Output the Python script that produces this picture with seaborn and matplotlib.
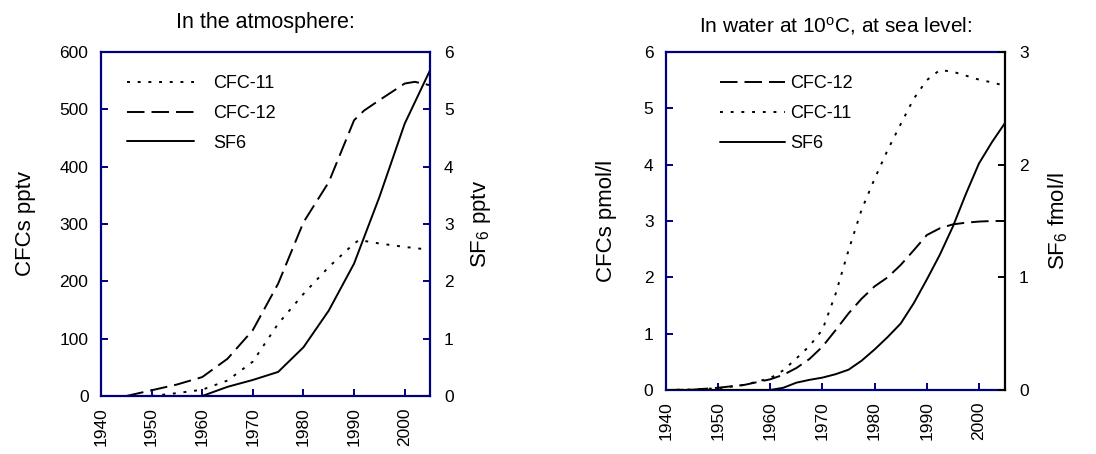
import matplotlib
matplotlib.use("Agg")
import matplotlib.pyplot as plt
import seaborn as sns
import pandas as pd

# ---------------- data: atmosphere ----------------
atm_cfc12_years = [1945, 1950, 1955, 1960, 1965, 1970, 1975, 1980, 1985, 1990, 1992, 1995, 2000, 2002, 2005]
atm_cfc12 = [0, 10, 20, 33, 65, 115, 196, 303, 373, 481, 498, 516, 545, 548, 542]
atm_cfc11_years = [1950, 1955, 1960, 1965, 1970, 1975, 1980, 1985, 1990, 1991, 1995, 2000, 2004]
atm_cfc11 = [0, 5, 11, 27, 60, 126, 178, 225, 266, 272, 266, 260, 256]
atm_sf6_years = [1960, 1965, 1970, 1975, 1980, 1985, 1990, 1995, 2000, 2005]
atm_sf6 = [0, 0.16, 0.28, 0.42, 0.85, 1.49, 2.31, 3.47, 4.75, 5.68]

# ---------------- data: water at 10 C ----------------
wat_years = [1940, 1945, 1950, 1955, 1960, 1962.5, 1965, 1967.5, 1970, 1972.5, 1975,
             1977.5, 1980, 1982.5, 1985, 1987.5, 1990, 1992.5, 1995, 1997.5, 2000, 2002.5, 2005]
wat_cfc12 = [0, 0.005, 0.04, 0.09, 0.19, 0.27, 0.39, 0.55, 0.77, 1.06, 1.36,
             1.62, 1.84, 2.00, 2.22, 2.48, 2.75, 2.87, 2.94, 2.97, 2.99, 3.00, 3.00]
wat_cfc11 = [0, 0.01, 0.03, 0.09, 0.21, 0.35, 0.56, 0.78, 1.07, 1.70, 2.48,
             3.20, 3.75, 4.26, 4.72, 5.17, 5.50, 5.68, 5.65, 5.58, 5.51, 5.46, 5.40]
wat_sf6 = [0, 0, 0, 0, 0, 0.02, 0.065, 0.09, 0.11, 0.14, 0.18,
           0.26, 0.36, 0.47, 0.59, 0.77, 0.98, 1.20, 1.45, 1.74, 2.01, 2.20, 2.37]

xticks = [1940, 1950, 1960, 1970, 1980, 1990, 2000]

sns.set_style("white")
plt.rcParams['font.family'] = ['Liberation Sans', 'DejaVu Sans']
plt.rcParams['mathtext.fontset'] = 'custom'
plt.rcParams['mathtext.rm'] = 'Liberation Sans'
plt.rcParams['mathtext.it'] = 'Liberation Sans:italic'
plt.rcParams['mathtext.bf'] = 'Liberation Sans:bold'
plt.rcParams['text.color'] = 'black'
plt.rcParams['axes.labelcolor'] = 'black'
plt.rcParams['xtick.labelcolor'] = 'black'
plt.rcParams['ytick.labelcolor'] = 'black'

NAVY = '#000080'
LW = 1.4
DOT = (1.5, 4)
DASH = (9, 3.6)
TICK_FS = 12.5

fig = plt.figure(figsize=(10.96, 4.54), dpi=100)
W, H = 1096, 454

def box(x0, y0, x1, y1):
    return [x0 / W, 1 - y1 / H, (x1 - x0) / W, (y1 - y0) / H]

def style_axes(ax, ax2, right_color):
    for s in ['left', 'bottom', 'top']:
        ax.spines[s].set_color(NAVY)
        ax.spines[s].set_linewidth(1.6)
    ax.spines['right'].set_visible(False)
    for s in ['left', 'bottom', 'top']:
        ax2.spines[s].set_visible(False)
    ax2.spines['right'].set_color(right_color)
    ax2.spines['right'].set_linewidth(1.6)
    ax.tick_params(axis='y', direction='in', length=5, width=1.4, color=NAVY,
                   labelcolor='black', labelsize=TICK_FS, pad=9, left=True)
    ax.tick_params(axis='x', direction='in', length=5, width=1.4, color=NAVY,
                   labelcolor='black', labelsize=TICK_FS, pad=8, bottom=True,
                   labelrotation=90)
    ax2.tick_params(axis='y', direction='in', length=5, width=1.4, color=right_color,
                    labelcolor='black', labelsize=TICK_FS, pad=10, right=True)
    ax.set_xlim(1940, 2005)
    ax.set_xticks(xticks)
    ax.set_xticklabels([str(t) for t in xticks])
    ax.set_xlabel('')

# ---------------- left panel ----------------
axL = fig.add_axes(box(101, 52, 430, 396))
axL2 = axL.twinx()

df_a11 = pd.DataFrame({'year': atm_cfc11_years, 'v': atm_cfc11})
df_a12 = pd.DataFrame({'year': atm_cfc12_years, 'v': atm_cfc12})
df_asf = pd.DataFrame({'year': atm_sf6_years, 'v': atm_sf6})

sns.lineplot(data=df_a11, x='year', y='v', ax=axL, color='black', lw=LW,
             label='CFC-11', legend=False)
axL.lines[-1].set_dashes(DOT)
sns.lineplot(data=df_a12, x='year', y='v', ax=axL, color='black', lw=LW,
             label='CFC-12', legend=False)
axL.lines[-1].set_dashes(DASH)
sns.lineplot(data=df_asf, x='year', y='v', ax=axL2, color='black', lw=LW,
             label='SF6', legend=False)

axL.set_ylim(0, 600)
axL.set_yticks(range(0, 601, 100))
axL2.set_ylim(0, 6)
axL2.set_yticks(range(0, 7))
style_axes(axL, axL2, NAVY)
axL.set_ylabel('CFCs pptv', fontsize=16, labelpad=17)
axL2.set_ylabel('SF$_{\\mathrm{6}}$ pptv', fontsize=16, labelpad=11)
axL.set_title('In the atmosphere:', fontsize=15.5, pad=17)

h1, l1 = axL.get_legend_handles_labels()
h2, l2 = axL2.get_legend_handles_labels()
axL2.legend(h1 + h2, l1 + l2, loc='upper left', bbox_to_anchor=(0.079, 0.932),
            frameon=False, fontsize=13, handlelength=3.7, handletextpad=1.05,
            labelspacing=0.7, borderpad=0, borderaxespad=0)

# ---------------- right panel ----------------
axR = fig.add_axes(box(666, 52, 1005, 390))
axR2 = axR.twinx()

df_w12 = pd.DataFrame({'year': wat_years, 'v': wat_cfc12})
df_w11 = pd.DataFrame({'year': wat_years, 'v': wat_cfc11})
df_wsf = pd.DataFrame({'year': wat_years, 'v': wat_sf6})

sns.lineplot(data=df_w12, x='year', y='v', ax=axR, color='black', lw=LW,
             label='CFC-12', legend=False)
axR.lines[-1].set_dashes(DASH)
sns.lineplot(data=df_w11, x='year', y='v', ax=axR, color='black', lw=LW,
             label='CFC-11', legend=False)
axR.lines[-1].set_dashes(DOT)
sns.lineplot(data=df_wsf, x='year', y='v', ax=axR2, color='black', lw=LW,
             label='SF6', legend=False)

axR.set_ylim(0, 6)
axR.set_yticks(range(0, 7))
axR2.set_ylim(0, 3)
axR2.set_yticks(range(0, 4))
style_axes(axR, axR2, 'black')
axR.set_ylabel('CFCs pmol/l', fontsize=16, labelpad=19)
axR2.set_ylabel('SF$_{\\mathrm{6}}$ fmol/l', fontsize=16, labelpad=13)
axR.set_title('In water at 10$^{\\mathrm{o}}$C, at sea level:', fontsize=15, pad=14)

h1, l1 = axR.get_legend_handles_labels()
h2, l2 = axR2.get_legend_handles_labels()
axR2.legend(h1 + h2, l1 + l2, loc='upper left', bbox_to_anchor=(0.159, 0.932),
            frameon=False, fontsize=13, handlelength=3.6, handletextpad=0.28,
            labelspacing=0.72, borderpad=0, borderaxespad=0)

fig.savefig('out.png', dpi=100)
